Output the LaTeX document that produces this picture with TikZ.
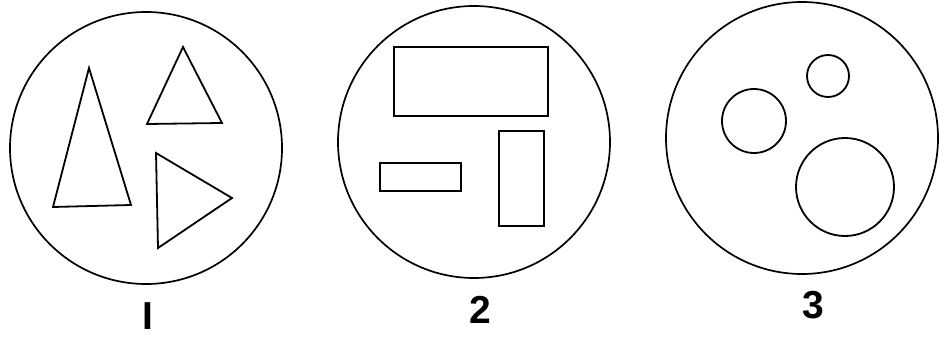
\documentclass[tikz,border=0pt]{standalone}
\usepackage{fontspec}
\setsansfont{Liberation Sans}
\usetikzlibrary{positioning}

\begin{document}
\begin{tikzpicture}[x=1pt, y=-1pt, line width=1.7pt, line join=miter]
    \tikzset{
        plate/.style={draw, circle, minimum size=272pt, inner sep=0pt, line width=1.7pt},
        figure/.style={draw, line width=1.8pt},
        tag/.style={font=\sffamily\bfseries\fontsize{39}{39}\selectfont, inner sep=0pt}
    }
    \useasboundingbox (0,0) rectangle (947,339);

    % big circles
    \node [plate] (plate1) at (146,148) {};
    \node [plate] (plate2) at (474,142) {};
    \node [plate] (plate3) at (802,138) {};

    % triangles
    \draw [figure] (89,68) -- (53,207) -- (131,205) -- cycle;
    \draw [figure] (183,47) -- (147,124) -- (222,123) -- cycle;
    \draw [figure] (156,153) -- (158,248) -- (232,198) -- cycle;

    % rectangles
    \draw [figure] (394,47) rectangle (548,116);
    \draw [figure] (380,163) rectangle (461,191);
    \draw [figure] (499,131) rectangle (544,226);

    % circles
    \draw [figure] (828,76) circle (21);
    \draw [figure] (754,121) circle (32);
    \draw [figure] (845,187) circle (49);

    % labels
    \node [tag] (tag1) at (148,316) {I};
    \node [tag] (tag2) at (480,310) {2};
    \node [tag] (tag3) at (813,305) {3};
\end{tikzpicture}
\end{document}
